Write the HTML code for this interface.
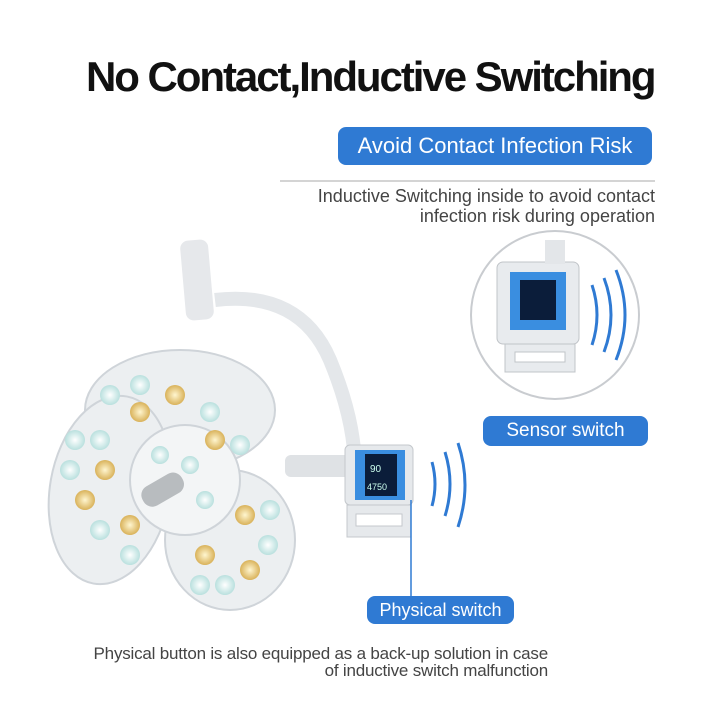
<!DOCTYPE html>
<html><head><meta charset="utf-8"><style>
body{margin:0;width:720px;height:720px;background:#fff;position:relative;overflow:hidden;font-family:"Liberation Sans",sans-serif}
.t{position:absolute;white-space:nowrap}
.pill{position:absolute;background:#2f7ad3;color:#fff;border-radius:8px;text-align:center}
</style></head><body>
<svg width="720" height="720" style="position:absolute;left:0;top:0">
<defs>
<radialGradient id="y" cx="50%" cy="50%" r="50%"><stop offset="0" stop-color="#fff6d0"/><stop offset="1" stop-color="#d9b25a"/></radialGradient>
<radialGradient id="c" cx="50%" cy="50%" r="50%"><stop offset="0" stop-color="#ffffff"/><stop offset="1" stop-color="#b9e0de"/></radialGradient>
</defs>
<line x1="280" y1="181" x2="655" y2="181" stroke="#aaa" stroke-width="1"/>
<circle cx="555" cy="315" r="84" fill="#fff" stroke="#c9ccd0" stroke-width="2"/>
<rect x="497" y="262" width="82" height="82" rx="6" fill="#e8ebee" stroke="#c0c4c8"/>
<rect x="510" y="272" width="56" height="58" fill="#3a8ee0"/>
<rect x="520" y="280" width="36" height="40" fill="#0b1d3a"/>
<path d="M505 344 h70 v28 h-70z M515 352 h50 v10 h-50z" fill="#e8ebee" stroke="#c0c4c8" fill-rule="evenodd"/>
<rect x="545" y="240" width="20" height="24" fill="#e3e6e9"/>
<path d="M592 285 q10 30 0 60 M604 278 q14 37 0 74 M616 270 q18 45 0 90" stroke="#2f7ad3" stroke-width="3" fill="none"/>
<path d="M215 300 Q300 290 330 360 Q355 420 355 470" stroke="#e4e7ea" stroke-width="14" fill="none"/>
<rect x="183" y="240" width="28" height="80" rx="8" fill="#e6e8eb" transform="rotate(-5 197 280)"/>
<rect x="285" y="455" width="70" height="22" rx="6" fill="#dfe2e5"/>
<rect x="345" y="445" width="68" height="60" rx="5" fill="#e6e9ec" stroke="#c4c8cc"/>
<rect x="355" y="450" width="50" height="50" fill="#3a8ee0"/>
<rect x="365" y="454" width="32" height="42" fill="#0b1d3a"/>
<text x="370" y="472" fill="#cfe" font-size="10">90</text>
<text x="367" y="490" fill="#cfe" font-size="9">4750</text>
<path d="M347 505 h64 v32 h-64z M356 514 h46 v12 h-46z" fill="#e6e9ec" stroke="#c4c8cc" fill-rule="evenodd"/>
<path d="M432 462 q6 22 0 44 M445 452 q10 32 0 64 M458 443 q14 42 0 84" stroke="#2f7ad3" stroke-width="3" fill="none"/>
<g stroke="#cfd4d9" stroke-width="2">
<ellipse cx="180" cy="410" rx="95" ry="60" fill="#eceff1"/>
<ellipse cx="110" cy="490" rx="60" ry="95" fill="#eceff1" transform="rotate(10 110 490)"/>
<ellipse cx="230" cy="540" rx="65" ry="70" fill="#eceff1"/>
<circle cx="185" cy="480" r="55" fill="#f3f5f6"/>
</g>
<g>
<circle cx="100" cy="440" r="10" fill="url(#c)"/><circle cx="105" cy="470" r="10" fill="url(#y)"/><circle cx="85" cy="500" r="10" fill="url(#y)"/><circle cx="100" cy="530" r="10" fill="url(#c)"/><circle cx="75" cy="440" r="10" fill="url(#c)"/><circle cx="70" cy="470" r="10" fill="url(#c)"/>
<circle cx="110" cy="395" r="10" fill="url(#c)"/><circle cx="140" cy="385" r="10" fill="url(#c)"/><circle cx="175" cy="395" r="10" fill="url(#y)"/><circle cx="140" cy="412" r="10" fill="url(#y)"/><circle cx="210" cy="412" r="10" fill="url(#c)"/><circle cx="215" cy="440" r="10" fill="url(#y)"/><circle cx="240" cy="445" r="10" fill="url(#c)"/>
<circle cx="130" cy="525" r="10" fill="url(#y)"/><circle cx="130" cy="555" r="10" fill="url(#c)"/>
<circle cx="245" cy="515" r="10" fill="url(#y)"/><circle cx="270" cy="510" r="10" fill="url(#c)"/><circle cx="268" cy="545" r="10" fill="url(#c)"/><circle cx="205" cy="555" r="10" fill="url(#y)"/><circle cx="250" cy="570" r="10" fill="url(#y)"/><circle cx="200" cy="585" r="10" fill="url(#c)"/><circle cx="225" cy="585" r="10" fill="url(#c)"/>
<circle cx="160" cy="455" r="9" fill="url(#c)"/><circle cx="190" cy="465" r="9" fill="url(#c)"/><circle cx="205" cy="500" r="9" fill="url(#c)"/>
</g>
<rect x="140" y="480" width="45" height="22" rx="10" fill="#b8bcbf" transform="rotate(-30 160 490)"/>
<line x1="411" y1="500" x2="411" y2="598" stroke="#2f7ad3" stroke-width="1.5"/>
</svg>
<div class="t" style="left:86px;top:53px;font-size:42px;font-weight:bold;color:#111;letter-spacing:-2.05px">No Contact,Inductive Switching</div>
<div class="pill" style="left:338px;top:127px;width:314px;height:38px;line-height:38px;font-size:22px">Avoid Contact Infection Risk</div>
<div class="t" style="right:65px;top:186px;font-size:18px;color:#444;text-align:right;line-height:20px">Inductive Switching inside to avoid contact<br>infection risk during operation</div>
<div class="pill" style="left:483px;top:416px;width:165px;height:30px;line-height:30px;font-size:19px">Sensor switch</div>
<div class="pill" style="left:367px;top:596px;width:147px;height:28px;line-height:28px;font-size:18px">Physical switch</div>
<div class="t" style="right:172px;top:645px;font-size:17px;color:#444;text-align:right;line-height:17px;letter-spacing:-0.2px">Physical button is also equipped as a back-up solution in case<br>of inductive switch malfunction</div>
</body></html>
